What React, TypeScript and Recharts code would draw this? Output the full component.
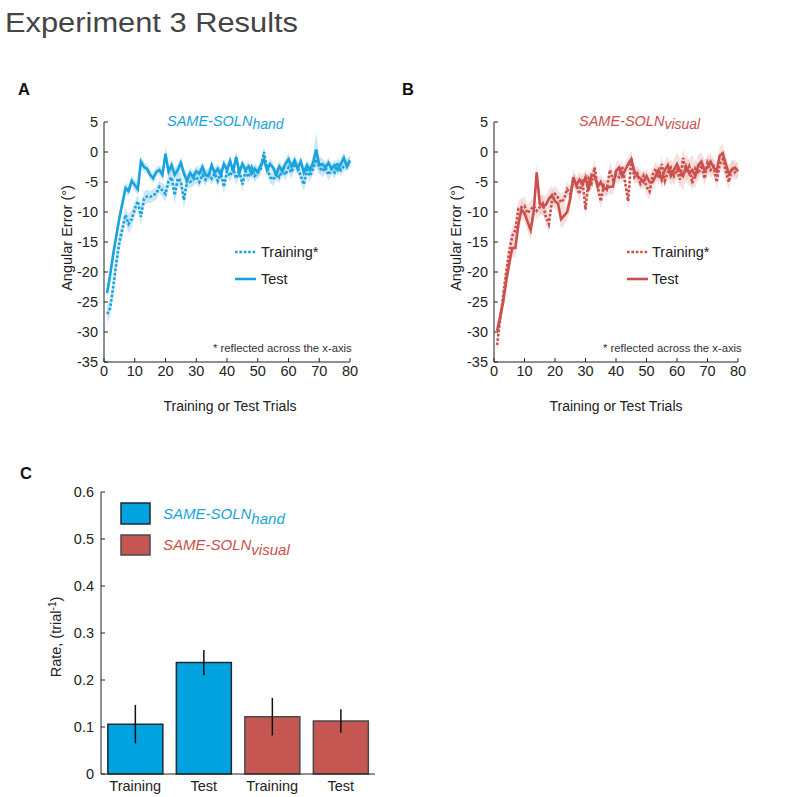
import React from "react";
import {
  ComposedChart,
  Line,
  Area,
  XAxis,
  YAxis,
  BarChart,
  Bar,
  Cell,
  ErrorBar,
} from "recharts";

const FONT = '"Liberation Sans", Arial, sans-serif';
const BLUE = "#17a3dd";
const RED = "#cc4f4b";
const INK = "#222";

// trial numbers 1..80
const trials = Array.from({ length: 80 }, (_, i) => i + 1);
const xTicks = [0, 10, 20, 30, 40, 50, 60, 70, 80];
const yTicks = [-35, -30, -25, -20, -15, -10, -5, 0, 5];

// Panel A: SAME-SOLN hand
const handTraining = [
  -27, -26, -22.5, -18.5, -15, -12.8, -10.5, -12, -11.2, -9.5,
  -8.2, -10.8, -7.8, -7.4, -7.5, -7.2, -6.9, -5.8, -6.4, -7.0,
  -4.8, -4.2, -7.2, -4.4, -4.9, -8.0, -4.8, -5.0, -4.6, -4.2,
  -5.0, -3.8, -4.6, -3.5, -4.4, -3.6, -4.8, -3.4, -5.8, -3.2,
  -4.0, -2.8, -4.4, -3.0, -5.4, -3.2, -4.2, -2.6, -4.0, -3.4,
  -2.8, 0.0, -2.6, -4.2, -4.6, -3.6, -4.2, -3.0, -3.8, -2.6,
  -3.4, -2.0, -2.6, -4.0, -5.4, -3.0, -4.0, -2.8, -1.2, -2.4,
  -3.2, -2.6, -3.8, -2.8, -3.4, -1.8, -3.0, -2.4, -2.0, -1.6,
];
const handTrainingSem = [
  1.4, 1.4, 1.5, 1.5, 1.5, 1.4, 1.3, 1.6, 1.4, 1.2,
  1.1, 1.6, 1.2, 1.1, 1.0, 1.0, 1.1, 1.0, 1.2, 1.3,
  1.2, 1.4, 1.6, 1.2, 1.3, 1.5, 1.1, 1.0, 1.1, 1.0,
  1.0, 1.0, 1.1, 0.9, 1.0, 1.0, 1.1, 0.9, 1.2, 1.0,
  1.0, 0.9, 1.0, 0.9, 1.2, 1.0, 1.0, 0.9, 1.0, 1.0,
  0.9, 1.1, 1.0, 1.0, 1.1, 1.0, 1.0, 0.9, 1.0, 0.9,
  1.0, 0.9, 1.0, 1.1, 1.2, 1.0, 1.0, 0.9, 1.1, 1.0,
  1.0, 0.9, 1.0, 0.9, 1.0, 0.9, 1.0, 0.9, 0.9, 0.9,
];
const handTest = [
  -23.5, -20.5, -17, -14, -11, -8.5, -6, -6.5, -4.8, -5.5,
  -6.2, -1.6, -2.5, -2.8, -3.8, -4.4, -3.3, -3.0, -3.8, -0.3,
  -3.3, -2.2, -3.8, -3.0, -1.8, -3.6, -4.8, -3.5, -4.2, -3.2,
  -3.6, -2.5, -3.8, -4.0, -2.2, -3.5, -2.8, -3.8, -2.0, -3.0,
  -1.5, -3.2, -0.8, -3.5, -2.0, -3.0, -2.4, -3.6, -2.8, -3.4,
  -2.2, -1.2, -3.0, -2.0, -2.6, -3.8, -2.4, -3.2, -2.0, -1.2,
  -2.4, -1.4, -2.8, -1.6, -3.4, -2.2, -3.0, -1.8, 0.4, -2.2,
  -2.0, -2.6, -1.8, -2.8, -2.2, -3.0, -2.0, -1.0, -2.4, -1.4,
];
const handTestSem = [
  1.0, 1.0, 1.0, 1.0, 1.0, 1.0, 0.9, 0.9, 0.9, 0.9,
  0.9, 0.9, 0.8, 0.8, 0.8, 0.8, 0.8, 0.8, 0.9, 1.2,
  0.9, 1.0, 1.1, 1.0, 0.9, 1.0, 1.1, 1.0, 1.0, 0.9,
  0.9, 0.9, 1.0, 0.9, 0.9, 0.8, 0.9, 1.0, 0.9, 0.9,
  0.9, 0.9, 1.0, 0.9, 0.8, 0.9, 0.9, 1.0, 0.9, 0.9,
  0.9, 1.0, 0.9, 0.9, 0.8, 0.9, 1.0, 0.9, 0.9, 1.0,
  0.9, 0.9, 1.0, 0.9, 1.0, 0.9, 1.0, 1.2, 2.8, 1.5,
  1.0, 0.9, 0.9, 0.9, 0.9, 0.9, 0.9, 1.0, 0.9, 0.9,
];

// Panel B: SAME-SOLN visual
const visualTraining = [
  -32.2, -28, -24, -20, -16.5, -14, -13, -9.4, -9.2, -9.0,
  -10.2, -9.6, -9.0, -9.8, -9.2, -8.6, -10.8, -12.0, -8.0, -7.0,
  -7.6, -8.4, -7.8, -6.2, -7.0, -4.8, -5.2, -7.0, -4.6, -9.6,
  -4.4, -5.2, -2.6, -5.8, -8.2, -5.6, -6.2, -3.0, -4.6, -3.8,
  -4.2, -2.4, -5.0, -8.2, -1.0, -4.2, -3.6, -5.2, -4.0, -5.8,
  -6.6, -3.8, -2.8, -4.4, -2.0, -4.8, -3.4, -2.6, -4.0, -3.0,
  -4.6, -1.0, -3.4, -2.4, -5.2, -2.8, -3.6, -2.2, -4.4, -1.8,
  -3.0, -2.4, -5.0, -2.0, -1.2, -3.2, -5.0, -2.6, -3.4, -3.0,
];
const visualTrainingSem = [
  1.4, 1.5, 1.5, 1.5, 1.5, 1.5, 1.4, 1.4, 1.5, 1.6,
  1.4, 1.5, 1.3, 1.4, 1.5, 1.6, 1.5, 1.4, 1.5, 1.4,
  1.3, 1.4, 1.3, 1.3, 1.4, 1.2, 1.3, 1.4, 1.2, 1.4,
  1.3, 1.2, 1.4, 1.3, 1.4, 1.2, 1.3, 1.4, 1.2, 1.3,
  1.2, 1.3, 1.2, 1.4, 1.3, 1.2, 1.3, 1.2, 1.3, 1.4,
  1.3, 1.2, 1.3, 1.2, 1.3, 1.4, 1.3, 1.5, 1.6, 1.5,
  1.4, 1.6, 1.8, 1.5, 1.4, 1.6, 1.3, 1.4, 1.3, 1.5,
  1.3, 1.4, 1.3, 1.5, 1.6, 1.4, 1.3, 1.4, 1.3, 1.2,
];
const visualTest = [
  -29.8, -27.5, -25, -21.5, -18.5, -16, -16, -12, -9.6, -10.2,
  -11.6, -13, -10, -3.4, -8.6, -9.0, -8.8, -7.8, -7.2, -8.2,
  -8.6, -11.2, -10.6, -10.0, -7.8, -4.2, -5.6, -4.6, -5.4, -4.2,
  -6.4, -3.8, -4.0, -5.8, -5.0, -6.2, -6.0, -5.8, -5.8, -3.2,
  -2.6, -4.0, -3.0, -2.0, -1.2, -3.2, -4.0, -4.4, -5.0, -4.0,
  -5.0, -5.0, -4.0, -3.0, -4.6, -3.0, -2.2, -4.0, -3.0, -2.0,
  -3.2, -4.0, -2.4, -3.6, -3.0, -4.0, -2.2, -1.6, -3.0, -2.6,
  -1.6, -2.6, -3.2, -0.6, -0.2, -2.0, -3.6, -3.0, -2.6, -3.2,
];
const visualTestSem = [
  1.4, 1.5, 1.5, 1.6, 1.6, 1.5, 1.6, 1.8, 1.6, 1.5,
  1.6, 1.8, 1.6, 1.5, 1.6, 1.7, 1.5, 1.6, 1.5, 1.4,
  1.5, 1.6, 1.5, 1.4, 1.5, 1.3, 1.4, 1.3, 1.4, 1.3,
  1.4, 1.3, 1.2, 1.4, 1.3, 1.4, 1.3, 1.2, 1.3, 1.4,
  1.3, 1.2, 1.3, 1.2, 1.3, 1.2, 1.3, 1.4, 1.3, 1.2,
  1.3, 1.4, 1.3, 1.2, 1.3, 1.4, 1.5, 1.6, 1.8, 2.0,
  2.2, 2.4, 2.0, 2.2, 2.6, 2.0, 1.8, 1.6, 1.8, 1.6,
  1.5, 1.4, 1.5, 1.4, 1.6, 1.5, 1.4, 1.5, 1.4, 1.3,
];

// Panel C: learning rates
const rateIds = ["hand-training", "hand-test", "visual-training", "visual-test"];
const rateLabels = ["Training", "Test", "Training", "Test"];
const rateValues = [0.106, 0.237, 0.122, 0.113];
const rateErrors = [0.041, 0.027, 0.04, 0.025];
const rateGroups = ["hand", "hand", "visual", "visual"];
const rateTicks = [0, 0.1, 0.2, 0.3, 0.4, 0.5, 0.6];

const buildRows = (
  train: number[],
  trainSem: number[],
  test: number[],
  testSem: number[]
) =>
  trials.map((t, i) => ({
    t,
    train: train[i],
    test: test[i],
    trainBand: [train[i] - trainSem[i], train[i] + trainSem[i]],
    testBand: [test[i] - testSem[i], test[i] + testSem[i]],
  }));

const handRows = buildRows(handTraining, handTrainingSem, handTest, handTestSem);
const visualRows = buildRows(visualTraining, visualTrainingSem, visualTest, visualTestSem);

const rateRows = rateIds.map((id, i) => ({
  id,
  rate: rateValues[i],
  err: rateErrors[i],
  group: rateGroups[i],
}));

const tickStyle = { fill: INK, fontSize: 14.5, fontFamily: FONT };

function LinePanel({ rows, color, band, left, mLeft, mRight }: any) {
  return (
    <div style={{ position: "absolute", left, top: 100 }}>
      <ComposedChart
        width={370}
        height={320}
        data={rows}
        margin={{ top: 22, right: mRight, left: mLeft, bottom: 28 }}
      >
        <XAxis
          dataKey="t"
          type="number"
          domain={[0, 80]}
          ticks={xTicks}
          height={30}
          tickSize={-4}
          tickMargin={8}
          axisLine={{ stroke: INK }}
          tickLine={{ stroke: INK }}
          tick={tickStyle}
        />
        <YAxis
          type="number"
          domain={[-35, 5]}
          ticks={yTicks}
          width={60}
          tickSize={-4}
          tickMargin={10}
          axisLine={{ stroke: INK }}
          tickLine={{ stroke: INK }}
          tick={tickStyle}
        />
        <Area
          dataKey="trainBand"
          stroke="none"
          fill={band}
          fillOpacity={0.45}
          isAnimationActive={false}
        />
        <Area
          dataKey="testBand"
          stroke="none"
          fill={band}
          fillOpacity={0.45}
          isAnimationActive={false}
        />
        <Line
          dataKey="train"
          stroke={color}
          strokeWidth={2.6}
          strokeDasharray="2.6 1.8"
          dot={false}
          isAnimationActive={false}
        />
        <Line
          dataKey="test"
          stroke={color}
          strokeWidth={2.6}
          dot={false}
          isAnimationActive={false}
        />
      </ComposedChart>
    </div>
  );
}

function RatePanel() {
  return (
    <div style={{ position: "absolute", left: 0, top: 470 }}>
      <BarChart
        width={390}
        height={327}
        data={rateRows}
        margin={{ top: 22, right: 15, left: 41, bottom: 0 }}
        barCategoryGap="10%"
      >
        <XAxis
          dataKey="id"
          height={23}
          tickSize={0}
          tickMargin={7}
          axisLine={{ stroke: INK }}
          tickLine={false}
          tick={tickStyle}
          tickFormatter={(_: any, i: number) => rateLabels[i]}
        />
        <YAxis
          type="number"
          domain={[0, 0.6]}
          ticks={rateTicks}
          width={60}
          tickSize={-4}
          tickMargin={11}
          axisLine={{ stroke: INK }}
          tickLine={{ stroke: INK }}
          tick={tickStyle}
          tickFormatter={(v: number) => (v === 0 ? "0" : v.toFixed(1))}
        />
        <Bar dataKey="rate" strokeWidth={1.5} isAnimationActive={false}>
          {rateRows.map((r) => (
            <Cell
              key={r.id}
              fill={r.group === "hand" ? "#00a3e0" : "#c55651"}
              stroke={r.group === "hand" ? "#1c2a33" : "#4a4a4a"}
            />
          ))}
          <ErrorBar dataKey="err" width={0} stroke="#111" strokeWidth={1.5} />
        </Bar>
      </BarChart>
    </div>
  );
}

function Overlay() {
  return (
    <svg
      width={788}
      height={797}
      style={{ position: "absolute", left: 0, top: 0, pointerEvents: "none" }}
      fontFamily={FONT}
    >
      <text
        x={5}
        y={32}
        fontSize={27}
        fill="#444"
        textLength={293}
        lengthAdjust="spacingAndGlyphs"
      >
        Experiment 3 Results
      </text>

      <text x={18} y={95} fontSize={16.5} fontWeight="bold" fill="#111">A</text>
      <text x={402} y={95} fontSize={16.5} fontWeight="bold" fill="#111">B</text>
      <text x={20} y={479} fontSize={16.5} fontWeight="bold" fill="#111">C</text>

      {/* panel A */}
      <text x={167} y={126} fontSize={14.5} fontStyle="italic" fill={BLUE}>
        SAME-SOLN<tspan dy={3} fontSize={14}>hand</tspan>
      </text>
      <text
        transform="translate(72,238) rotate(-90)"
        textAnchor="middle"
        fontSize={14.5}
        fill={INK}
      >
        Angular Error (°)
      </text>
      <text x={230} y={411} textAnchor="middle" fontSize={14} fill={INK}>
        Training or Test Trials
      </text>
      <line x1={235} x2={256} y1={252} y2={252} stroke={BLUE} strokeWidth={2.6} strokeDasharray="2.6 1.8" />
      <text x={261} y={257} fontSize={14.5} fill={INK}>Training*</text>
      <line x1={235} x2={256} y1={279} y2={279} stroke={BLUE} strokeWidth={2.6} />
      <text x={261} y={284} fontSize={14.5} fill={INK}>Test</text>
      <text x={213} y={352} fontSize={11.3} fill="#333">* reflected across the x-axis</text>

      {/* panel B */}
      <text x={579} y={126} fontSize={14.5} fontStyle="italic" fill={RED}>
        SAME-SOLN<tspan dy={3} fontSize={14}>visual</tspan>
      </text>
      <text
        transform="translate(461,238) rotate(-90)"
        textAnchor="middle"
        fontSize={14.5}
        fill={INK}
      >
        Angular Error (°)
      </text>
      <text x={616} y={411} textAnchor="middle" fontSize={14} fill={INK}>
        Training or Test Trials
      </text>
      <line x1={627} x2={648} y1={252} y2={252} stroke={RED} strokeWidth={2.6} strokeDasharray="2.6 1.8" />
      <text x={652} y={257} fontSize={14.5} fill={INK}>Training*</text>
      <line x1={627} x2={648} y1={279} y2={279} stroke={RED} strokeWidth={2.6} />
      <text x={652} y={284} fontSize={14.5} fill={INK}>Test</text>
      <text x={603} y={352} fontSize={11.3} fill="#333">* reflected across the x-axis</text>

      {/* panel C */}
      <rect x={121} y={503} width={29} height={21} fill="#00a3e0" stroke="#1c2a33" strokeWidth={1.5} />
      <text x={163} y={519} fontSize={15} fontStyle="italic" fill={BLUE}>
        SAME-SOLN<tspan dy={4.5}>hand</tspan>
      </text>
      <rect x={121} y={535} width={29} height={20} fill="#c55651" stroke="#4a4a4a" strokeWidth={1.5} />
      <text x={163} y={550} fontSize={15} fontStyle="italic" fill={RED}>
        SAME-SOLN<tspan dy={4.5}>visual</tspan>
      </text>
      <text
        transform="translate(61,637) rotate(-90)"
        textAnchor="middle"
        fontSize={14.5}
        fill={INK}
      >
        Rate, (trial<tspan dy={-5} fontSize={10}>-1</tspan>
        <tspan dy={5}>)</tspan>
      </text>
    </svg>
  );
}

export default function App() {
  return (
    <div
      style={{
        position: "absolute",
        left: 0,
        top: 0,
        width: 788,
        height: 797,
        background: "#fff",
        fontFamily: FONT,
      }}
    >
      <LinePanel rows={handRows} color={BLUE} band="#8cc8ec" left={0} mLeft={44} mRight={20} />
      <LinePanel rows={visualRows} color={RED} band="#e6bcbb" left={390} mLeft={44} mRight={22} />
      <RatePanel />
      <Overlay />
    </div>
  );
}
